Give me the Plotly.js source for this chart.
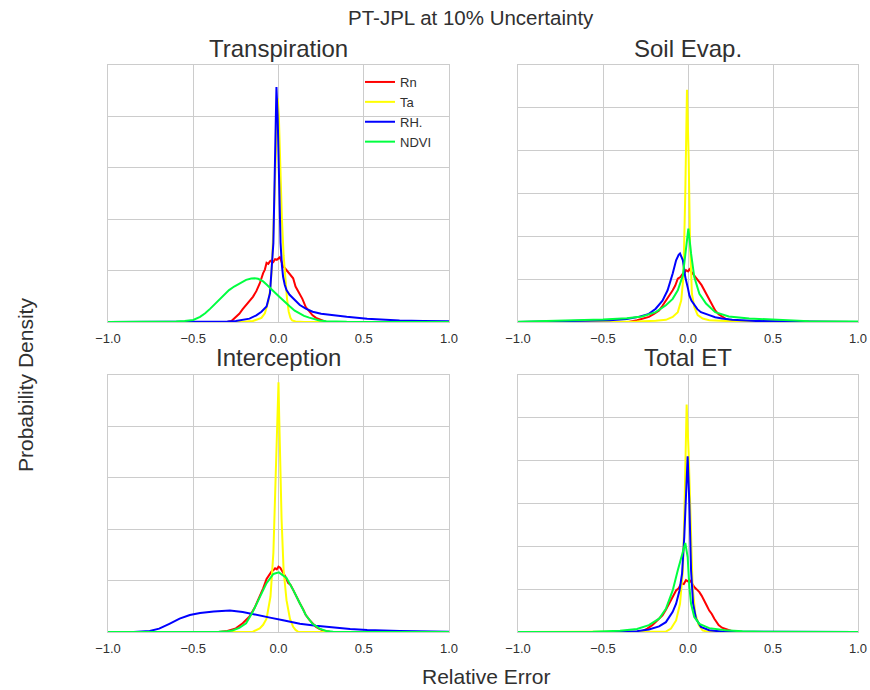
<!DOCTYPE html>
<html>
<head>
<meta charset="utf-8">
<script src="https://cdn.plot.ly/plotly-3.0.1.min.js"></script>
<style>html,body{margin:0;padding:0;background:#fff;}#chart{width:870px;height:690px;}</style>
</head>
<body>
<div id="chart"></div>
<script>
// ---- Data (y in gridline units; y tick labels are hidden in the original) ----
const seriesNames = ["Rn", "Ta", "RH.", "NDVI"];
const panelTitles = ["Transpiration", "Soil Evap.", "Interception", "Total ET"];
const xTickVals = [-1.0, -0.5, 0.0, 0.5, 1.0];

// Transpiration
const xTrRn = [-1, -0.3, -0.276, -0.25, -0.23, -0.21, -0.19, -0.17, -0.15, -0.13, -0.11, -0.09, -0.08, -0.07, -0.06, -0.05, -0.04, -0.03, -0.02, -0.01, 0, 0.008, 0.015, 0.027, 0.037, 0.047, 0.06, 0.075, 0.086, 0.1, 0.112, 0.125, 0.14, 0.16, 0.18, 0.2, 0.22, 0.24, 0.26, 0.28, 0.3, 1];
const yTrRn = [0, 0, 0.02, 0.09, 0.16, 0.25, 0.33, 0.40, 0.49, 0.6, 0.75, 0.95, 1.02, 1.15, 1.13, 1.18, 1.2, 1.17, 1.22, 1.21, 1.25, 1.26, 1.2, 1.08, 1.05, 1.01, 0.95, 0.9, 0.85, 0.69, 0.62, 0.56, 0.45, 0.29, 0.2, 0.13, 0.08, 0.05, 0.02, 0.0, 0, 0];
const xTrTa = [-1, -0.2, -0.15, -0.12, -0.1, -0.08, -0.06, -0.05, -0.04, -0.03, -0.02, -0.012, -0.005, 0.002, 0.01, 0.02, 0.03, 0.04, 0.05, 0.06, 0.07, 0.08, 0.1, 0.15, 1];
const yTrTa = [0, 0.005, 0.02, 0.05, 0.08, 0.17, 0.4, 0.6, 1.0, 1.8, 2.9, 3.9, 4.35, 4.0, 3.0, 2.0, 1.3, 0.8, 0.45, 0.2, 0.08, 0.03, 0.01, 0, 0];
const xTrRH = [-1, -0.4, -0.3, -0.25, -0.2, -0.17, -0.13, -0.1, -0.07, -0.05, -0.03, -0.02, -0.012, -0.005, 0, 0.006, 0.012, 0.02, 0.027, 0.037, 0.047, 0.065, 0.086, 0.105, 0.125, 0.16, 0.2, 0.25, 0.32, 0.4, 0.52, 0.6, 0.71, 0.85, 1];
const yTrRH = [0, 0, 0.01, 0.02, 0.04, 0.065, 0.13, 0.2, 0.3, 0.56, 1.54, 2.9, 4.57, 4.0, 3.2, 2.3, 1.54, 1.1, 0.88, 0.72, 0.62, 0.53, 0.46, 0.39, 0.33, 0.26, 0.2, 0.16, 0.13, 0.1, 0.065, 0.05, 0.03, 0.02, 0.013];
const xTrNDVI = [-1, -0.8, -0.7, -0.6, -0.55, -0.5, -0.46, -0.43, -0.4, -0.37, -0.34, -0.31, -0.29, -0.26, -0.23, -0.19, -0.16, -0.14, -0.12, -0.09, -0.07, -0.05, -0.02, 0.008, 0.035, 0.067, 0.095, 0.125, 0.15, 0.18, 0.21, 0.24, 0.28, 0.32, 0.4, 0.5, 1];
const yTrNDVI = [0, 0.002, 0.005, 0.01, 0.02, 0.04, 0.1, 0.17, 0.26, 0.36, 0.46, 0.56, 0.62, 0.69, 0.75, 0.82, 0.845, 0.85, 0.84, 0.79, 0.73, 0.66, 0.57, 0.48, 0.39, 0.3, 0.22, 0.16, 0.12, 0.085, 0.055, 0.03, 0.015, 0.008, 0.003, 0.001, 0];

// Soil Evap.
const xSeRn = [-1, -0.35, -0.3, -0.26, -0.23, -0.2, -0.17, -0.15, -0.13, -0.11, -0.09, -0.075, -0.06, -0.045, -0.03, -0.02, -0.012, 0, 0.008, 0.02, 0.037, 0.05, 0.067, 0.08, 0.096, 0.11, 0.125, 0.14, 0.16, 0.18, 0.2, 0.22, 0.24, 0.27, 0.3, 1];
const ySeRn = [0, 0, 0.04, 0.08, 0.12, 0.19, 0.27, 0.38, 0.5, 0.6, 0.74, 0.85, 1.01, 1.05, 1.13, 1.15, 1.21, 1.18, 1.23, 1.17, 1.09, 1.03, 0.93, 0.86, 0.74, 0.62, 0.5, 0.4, 0.27, 0.18, 0.12, 0.08, 0.05, 0.02, 0.005, 0];
const xSeTa = [-1, -0.3, -0.19, -0.13, -0.09, -0.06, -0.04, -0.027, -0.016, -0.006, 0.004, 0.012, 0.023, 0.037, 0.057, 0.086, 0.125, 0.2, 0.3, 1];
const ySeTa = [0, 0.01, 0.03, 0.05, 0.12, 0.23, 0.5, 1.05, 3.0, 5.42, 3.8, 1.83, 0.66, 0.35, 0.16, 0.08, 0.04, 0.02, 0.01, 0];
const xSeRH = [-1, -0.66, -0.46, -0.36, -0.29, -0.23, -0.19, -0.15, -0.12, -0.09, -0.07, -0.055, -0.047, -0.03, -0.016, 0, 0.008, 0.02, 0.037, 0.055, 0.076, 0.1, 0.125, 0.16, 0.2, 0.26, 0.32, 0.4, 0.52, 0.7, 1];
const ySeRH = [0, 0.015, 0.04, 0.07, 0.12, 0.19, 0.31, 0.5, 0.74, 1.13, 1.44, 1.57, 1.6, 1.44, 1.05, 0.78, 0.62, 0.5, 0.39, 0.3, 0.23, 0.19, 0.16, 0.11, 0.08, 0.055, 0.04, 0.025, 0.015, 0.005, 0];
const xSeNDVI = [-1, -0.76, -0.6, -0.5, -0.36, -0.27, -0.19, -0.13, -0.09, -0.06, -0.03, -0.012, 0.002, 0.018, 0.037, 0.067, 0.106, 0.16, 0.24, 0.36, 0.52, 0.71, 1];
const ySeNDVI = [0.005, 0.03, 0.045, 0.06, 0.09, 0.13, 0.23, 0.39, 0.54, 0.74, 1.09, 1.75, 2.18, 1.6, 1.05, 0.66, 0.43, 0.23, 0.13, 0.08, 0.05, 0.02, 0.01];

// Interception
const xInRn = [-1, -0.35, -0.3, -0.25, -0.21, -0.17, -0.14, -0.11, -0.09, -0.07, -0.055, -0.04, -0.03, -0.02, -0.01, 0, 0.01, 0.02, 0.027, 0.04, 0.057, 0.07, 0.086, 0.105, 0.125, 0.145, 0.16, 0.18, 0.2, 0.22, 0.24, 0.27, 0.3, 1];
const yInRn = [0, 0, 0.02, 0.07, 0.17, 0.3, 0.47, 0.69, 0.85, 1.03, 1.1, 1.18, 1.2, 1.24, 1.22, 1.27, 1.25, 1.2, 1.14, 1.08, 0.95, 0.92, 0.82, 0.68, 0.56, 0.44, 0.33, 0.24, 0.16, 0.1, 0.06, 0.02, 0.005, 0];
const xInTa = [-1, -0.2, -0.15, -0.11, -0.09, -0.07, -0.055, -0.047, -0.03, -0.016, -0.006, 0, 0.004, 0.008, 0.018, 0.03, 0.047, 0.067, 0.086, 0.1, 0.117, 0.2, 1];
const yInTa = [0, 0, 0.005, 0.07, 0.14, 0.26, 0.5, 0.69, 1.54, 3.17, 4.4, 4.86, 4.2, 3.6, 2.2, 1.2, 0.62, 0.26, 0.1, 0.04, 0, 0, 0];
const xInRH = [-1, -0.85, -0.755, -0.7, -0.64, -0.58, -0.52, -0.46, -0.38, -0.285, -0.21, -0.13, -0.05, 0.027, 0.125, 0.22, 0.32, 0.42, 0.52, 0.71, 1];
const yInRH = [0, 0.002, 0.02, 0.065, 0.16, 0.26, 0.33, 0.37, 0.40, 0.42, 0.39, 0.33, 0.28, 0.23, 0.16, 0.12, 0.085, 0.06, 0.04, 0.02, 0.007];
const xInNDVI = [-1, -0.4, -0.35, -0.3, -0.27, -0.23, -0.19, -0.15, -0.11, -0.07, -0.03, 0.002, 0.047, 0.086, 0.125, 0.16, 0.2, 0.24, 0.28, 0.32, 0.4, 1];
const yInNDVI = [0, 0, 0.005, 0.015, 0.03, 0.08, 0.17, 0.4, 0.69, 0.95, 1.13, 1.16, 1.05, 0.82, 0.56, 0.33, 0.16, 0.065, 0.02, 0.005, 0, 0];

// Total ET
const xEtRn = [-1, -0.3, -0.27, -0.24, -0.21, -0.18, -0.15, -0.13, -0.11, -0.09, -0.07, -0.055, -0.04, -0.025, -0.012, 0, 0.008, 0.02, 0.037, 0.05, 0.067, 0.08, 0.096, 0.11, 0.125, 0.14, 0.155, 0.17, 0.18, 0.2, 0.22, 0.24, 0.26, 0.28, 0.3, 1];
const yEtRn = [0, 0, 0.02, 0.08, 0.16, 0.27, 0.39, 0.52, 0.66, 0.8, 0.97, 1.02, 1.13, 1.12, 1.21, 1.18, 1.22, 1.16, 1.05, 1.0, 0.93, 0.85, 0.74, 0.62, 0.5, 0.42, 0.31, 0.22, 0.16, 0.1, 0.07, 0.04, 0.02, 0.01, 0, 0];
const xEtTa = [-1, -0.2, -0.13, -0.1, -0.07, -0.047, -0.03, -0.02, -0.008, 0.004, 0.016, 0.027, 0.043, 0.063, 0.086, 0.117, 1];
const yEtTa = [0, 0, 0.01, 0.08, 0.27, 0.66, 1.44, 3.0, 5.31, 4.16, 2.2, 1.05, 0.43, 0.16, 0.04, 0, 0];
const xEtRH = [-1, -0.46, -0.3, -0.23, -0.17, -0.13, -0.09, -0.07, -0.05, -0.035, -0.022, -0.012, -0.002, 0.008, 0.018, 0.03, 0.047, 0.076, 0.125, 0.2, 1];
const yEtRH = [0, 0, 0.02, 0.06, 0.13, 0.23, 0.47, 0.66, 0.97, 1.36, 2.22, 3.39, 4.1, 3.0, 1.44, 0.66, 0.31, 0.12, 0.04, 0.01, 0];
const xEtNDVI = [-1, -0.56, -0.4, -0.3, -0.23, -0.17, -0.13, -0.09, -0.06, -0.03, -0.016, -0.002, 0.008, 0.018, 0.037, 0.067, 0.125, 0.22, 0.32, 0.5, 1];
const yEtNDVI = [0, 0.005, 0.03, 0.07, 0.16, 0.31, 0.54, 0.97, 1.44, 1.87, 2.08, 1.75, 1.05, 0.66, 0.35, 0.19, 0.09, 0.04, 0.015, 0.005, 0];

const panelYMax = [5, 6, 5, 6];

// ---- Build figure ----
const colors = ["#ff0000", "#ffff00", "#0000ff", "#00ff40"];
const panels = [
  [[xTrRn, yTrRn], [xTrTa, yTrTa], [xTrRH, yTrRH], [xTrNDVI, yTrNDVI]],
  [[xSeRn, ySeRn], [xSeTa, ySeTa], [xSeRH, ySeRH], [xSeNDVI, ySeNDVI]],
  [[xInRn, yInRn], [xInTa, yInTa], [xInRH, yInRH], [xInNDVI, yInNDVI]],
  [[xEtRn, yEtRn], [xEtTa, yEtTa], [xEtRH, yEtRH], [xEtNDVI, yEtNDVI]]
];
const W = 870, H = 690;
const xDom = [[108 / W, 449 / W], [518 / W, 858 / W]];
const yDom = [[1 - 322 / H, 1 - 65 / H], [1 - 632 / H, 1 - 375 / H]];

const traces = [];
panels.forEach((p, pi) => {
  const suffix = pi === 0 ? "" : String(pi + 1);
  p.forEach((s, si) => {
    traces.push({
      x: s[0], y: s[1], type: "scatter", mode: "lines",
      name: seriesNames[si],
      line: {color: colors[si], width: 2},
      xaxis: "x" + suffix, yaxis: "y" + suffix,
      showlegend: pi === 0,
      hoverinfo: "skip"
    });
  });
});

const fontFam = "Liberation Sans, Arial, Helvetica, sans-serif";
const txtColor = "#303030";
const layout = {
  width: W, height: H,
  margin: {l: 0, r: 0, t: 0, b: 0},
  paper_bgcolor: "#ffffff", plot_bgcolor: "#ffffff",
  font: {family: fontFam, color: txtColor},
  showlegend: true,
  legend: {
    x: 360 / W, y: 1 - 67 / H, xanchor: "left", yanchor: "top",
    bgcolor: "rgba(0,0,0,0)", borderwidth: 0,
    font: {family: fontFam, size: 13, color: txtColor},
    itemwidth: 30, tracegroupgap: 0
  },
  annotations: []
};

for (let pi = 0; pi < 4; pi++) {
  const suffix = pi === 0 ? "" : String(pi + 1);
  const col = pi % 2, row = Math.floor(pi / 2);
  layout["xaxis" + suffix] = {
    domain: xDom[col], anchor: "y" + suffix, range: [-1, 1],
    tickvals: xTickVals, tickformat: ".1f",
    showgrid: true, gridcolor: "#cccccc", gridwidth: 1,
    showline: true, linecolor: "#cccccc", linewidth: 1, mirror: true,
    zeroline: false, ticks: "", ticklabelstandoff: 4,
    tickfont: {family: fontFam, size: 13, color: txtColor}
  };
  layout["yaxis" + suffix] = {
    domain: yDom[row], anchor: "x" + suffix, range: [0, panelYMax[pi]],
    dtick: 1, showticklabels: false,
    showgrid: true, gridcolor: "#cccccc", gridwidth: 1,
    showline: true, linecolor: "#cccccc", linewidth: 1, mirror: true,
    zeroline: false, ticks: ""
  };
  layout.annotations.push({
    text: panelTitles[pi], xref: "paper", yref: "paper",
    x: (xDom[col][0] + xDom[col][1]) / 2, y: row === 0 ? 1 - 48 / H : 1 - 357 / H,
    xanchor: "center", yanchor: "middle", showarrow: false,
    font: {family: fontFam, size: 24, color: txtColor}
  });
}
layout.annotations.push({
  text: "PT-JPL at 10% Uncertainty", xref: "paper", yref: "paper",
  x: 471 / W, y: 1 - 17 / H, xanchor: "center", yanchor: "middle", showarrow: false,
  font: {family: fontFam, size: 20.5, color: txtColor}
});
layout.annotations.push({
  text: "Relative Error", xref: "paper", yref: "paper",
  x: 486 / W, y: 1 - 676 / H, xanchor: "center", yanchor: "middle", showarrow: false,
  font: {family: fontFam, size: 21, color: txtColor}
});
layout.annotations.push({
  text: "Probability Density", xref: "paper", yref: "paper",
  x: 25 / W, y: 1 - 385 / H, xanchor: "center", yanchor: "middle", showarrow: false,
  textangle: -90,
  font: {family: fontFam, size: 21, color: txtColor}
});

Plotly.newPlot("chart", traces, layout, {displayModeBar: false, staticPlot: true});
</script>
</body>
</html>
